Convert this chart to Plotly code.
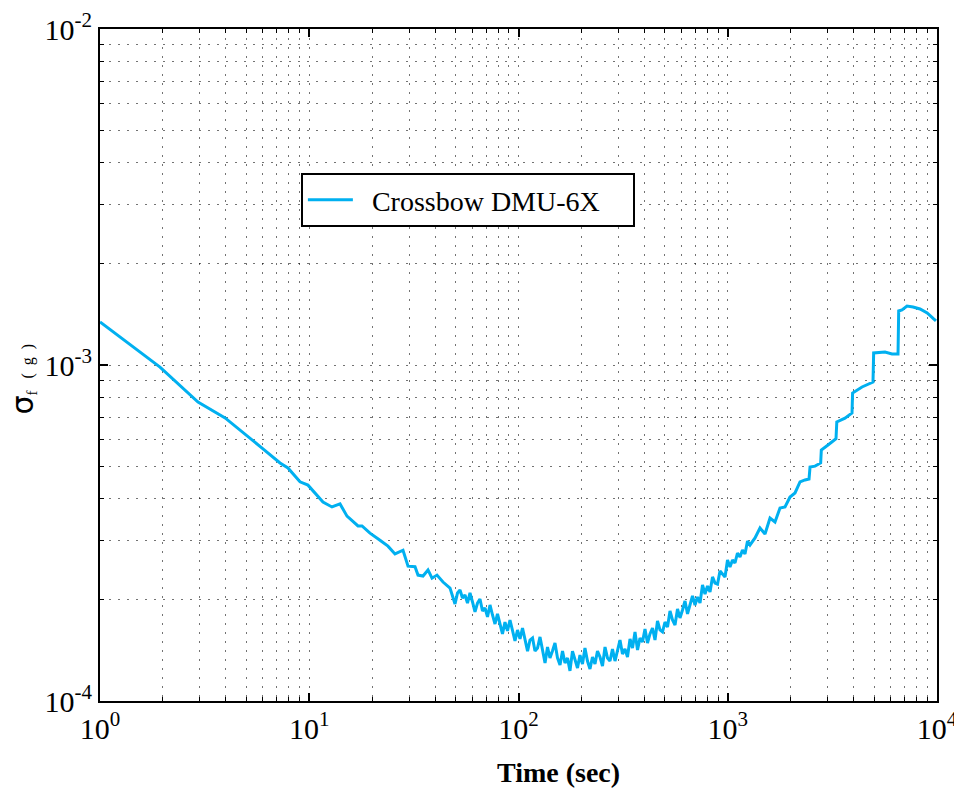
import plotly.graph_objects as go

# Averaging time tau (sec)
tau = [1, 1.935, 2.94, 3.96, 5.95, 7.25, 7.91, 9.03, 9.86, 11.63, 12.84, 14.03, 15.15,
       17.10, 17.87, 19.51, 21.78, 23.78, 25.69, 28.06, 29.65, 32.02, 33.09, 34.96,
       36.94, 38.61, 40.78, 43.57,
       47.07, 48.38, 49.73, 51.12, 52.53, 54.00, 55.50, 57.05, 58.64, 60.28, 61.96, 63.69,
       65.46, 67.29, 69.17, 71.10, 73.07, 75.11, 77.21, 79.36, 81.56, 83.84, 86.18, 88.58,
       91.06, 93.60, 96.21, 98.90, 101.7, 104.5, 107.5, 110.5, 113.5, 116.7, 119.9, 123.3,
       126.7, 130.2, 133.9, 137.6, 141.4, 145.3, 149.4, 153.6, 157.9, 162.3, 166.8, 171.5,
       176.2, 181.1, 186.2, 191.4, 196.7, 202.2, 207.8, 213.6, 219.6, 225.7, 232.0, 238.5,
       245.2, 252.0, 259.1, 266.3, 273.7, 281.3, 289.2, 297.3, 305.5, 314.0, 322.8, 331.8,
       341.1, 350.6, 360.4, 370.5, 380.7, 391.3, 402.3, 413.5, 425.0, 436.9, 449.1, 461.6,
       474.5, 487.7, 501.4, 515.4, 529.7, 544.5, 559.7, 575.3, 591.3, 607.8, 624.8, 642.2,
       660.1, 678.5, 697.5, 716.9, 736.9, 757.5, 778.6, 800.3, 822.7, 845.7, 869.3, 893.5,
       918.4, 944.0, 970.4, 997.5, 1025, 1054, 1083, 1113, 1144, 1176, 1209, 1243, 1278,
       1350, 1426, 1507, 1592, 1682, 1777, 1878, 1984, 2096, 2215, 2340, 2446,
       2473, 2613, 2780, 2800, 3014, 3291, 3320, 3634, 3925, 3950, 4382, 4945, 4980,
       5643, 6095, 6512, 6560, 6804, 7189, 7680, 8295, 8977, 9640, 9890]

# Allan deviation sigma_f in units of 1e-4 g
sigma_e4 = [13.43, 9.86, 7.76, 6.96, 5.66, 5.11, 4.94, 4.49, 4.39, 3.91, 3.78, 3.86, 3.55,
            3.32, 3.32, 3.16, 3.01, 2.89, 2.74, 2.81, 2.52, 2.51, 2.37, 2.355,
            2.455, 2.32, 2.37, 2.26,
            2.169, 2.068, 1.944, 2.097, 2.140, 2.026, 2.068, 1.957, 2.097, 1.971, 1.841, 1.957,
            2.012, 1.853, 1.891, 1.779, 1.931, 1.803, 1.695, 1.816, 1.707, 1.583, 1.718, 1.616,
            1.742, 1.605, 1.509, 1.627, 1.530, 1.649, 1.530, 1.408, 1.519, 1.540, 1.408, 1.438,
            1.551, 1.399, 1.297, 1.448, 1.343, 1.408, 1.488, 1.343, 1.280, 1.408, 1.297, 1.343,
            1.229, 1.408, 1.315, 1.254, 1.370, 1.288, 1.438, 1.315, 1.245, 1.352, 1.288, 1.408,
            1.352, 1.271, 1.448, 1.343, 1.315, 1.428, 1.315, 1.418, 1.519, 1.380, 1.428, 1.352,
            1.530, 1.438, 1.605, 1.418, 1.540, 1.498, 1.638, 1.488, 1.583, 1.649, 1.519, 1.730,
            1.627, 1.605, 1.718, 1.660, 1.853, 1.742, 1.684, 1.879, 1.767, 1.866, 1.984, 1.816,
            1.931, 2.054, 1.931, 2.040, 1.957, 2.214, 2.082, 2.199, 2.111, 2.340, 2.245, 2.229,
            2.438, 2.389, 2.340, 2.628, 2.505, 2.628, 2.575, 2.757, 2.682, 2.814, 2.738, 2.994, 2.913,
            3.056, 3.272, 3.140, 3.504, 3.409, 3.752, 3.778, 4.047, 4.161, 4.486, 4.548, 4.579,
            4.97, 5.00, 5.11, 5.585, 5.78, 6.03, 6.77, 6.95, 7.20, 8.25, 8.60, 8.90, 10.86,
            10.93, 10.78, 10.78, 14.48, 14.58, 14.98, 14.88, 14.68, 14.28, 13.71, 13.52]

sigma = [v * 1e-4 for v in sigma_e4]

x_tickvals = [1, 10, 100, 1000, 10000]
x_ticktext = ["10<sup>0</sup>", "10<sup>1</sup>", "10<sup>2</sup>", "10<sup>3</sup>", "10<sup>4</sup>"]
y_tickvals = [1e-4, 1e-3, 1e-2]
y_ticktext = ["10<sup>-4</sup>", "10<sup>-3</sup>", "10<sup>-2</sup>"]

x_minor = [m * 10 ** e for e in range(0, 4) for m in range(2, 10)]
y_minor = [m * 10 ** e for e in (-4, -3) for m in range(2, 10)]

series_name = "Crossbow DMU-6X"
line_color = "rgb(0,176,240)"
serif = "Liberation Serif"
grid_dash = "2px,7px"
grid_color = "rgba(0,0,0,0.55)"
nb = "\u00a0"

fig = go.Figure()
fig.add_trace(go.Scatter(x=tau, y=sigma, mode="lines",
                         name=nb * 2 + series_name + nb * 4,
                         line=dict(color=line_color, width=3)))

common_axis = dict(
    type="log", showline=True, linecolor="black", linewidth=2, mirror="ticks",
    ticks="inside", ticklen=8, tickwidth=2, tickcolor="black",
    showgrid=True, gridcolor=grid_color, griddash=grid_dash, gridwidth=1,
    tickfont=dict(family=serif, size=30, color="black"),
    zeroline=False, automargin=False, ticklabeloverflow="allow",
)

fig.update_xaxes(**common_axis, range=[0, 4], tickmode="array",
                 tickvals=x_tickvals, ticktext=x_ticktext,
                 minor=dict(tickmode="array", tickvals=x_minor, ticks="inside", ticklen=4,
                            tickwidth=1, tickcolor="black", showgrid=True,
                            gridcolor=grid_color, griddash=grid_dash, gridwidth=1))
fig.update_yaxes(**common_axis, range=[-4, -2], tickmode="array",
                 tickvals=y_tickvals, ticktext=y_ticktext,
                 minor=dict(tickmode="array", tickvals=y_minor, ticks="inside", ticklen=4,
                            tickwidth=1, tickcolor="black", showgrid=True,
                            gridcolor=grid_color, griddash=grid_dash, gridwidth=1))

fig.add_annotation(xref="paper", yref="paper", x=0.548, y=-0.106, xanchor="center", yanchor="middle",
                   text="<b>Time (sec)</b>", showarrow=False,
                   font=dict(family=serif, size=28, color="black"))
fig.add_annotation(xref="paper", yref="paper", x=-0.0926, y=0.479, xanchor="center", yanchor="middle",
                   textangle=-90, showarrow=False,
                   text="<span style='font-family:DejaVu Sans;font-size:30px'>σ</span>"
                        "<sub><span style='font-size:15px'>f</span></sub>"
                        "<span style='font-size:16px'>" + nb * 3 + "(" + nb * 2 + "g" + nb * 2 + ")</span>",
                   font=dict(family=serif, size=16, color="black"))

fig.update_layout(
    width=954, height=792,
    margin=dict(l=100, r=17, t=29, b=91),
    paper_bgcolor="white", plot_bgcolor="white",
    showlegend=True,
    legend=dict(x=0.240, y=0.7455, xanchor="left", yanchor="middle",
                itemwidth=45,
                bgcolor="white", bordercolor="black", borderwidth=2,
                font=dict(family=serif, size=28, color="black")),
)

fig.write_html("out.html",
               config={"displayModeBar": False},
               post_script="document.body.style.margin='0';document.body.style.overflow='hidden';")
